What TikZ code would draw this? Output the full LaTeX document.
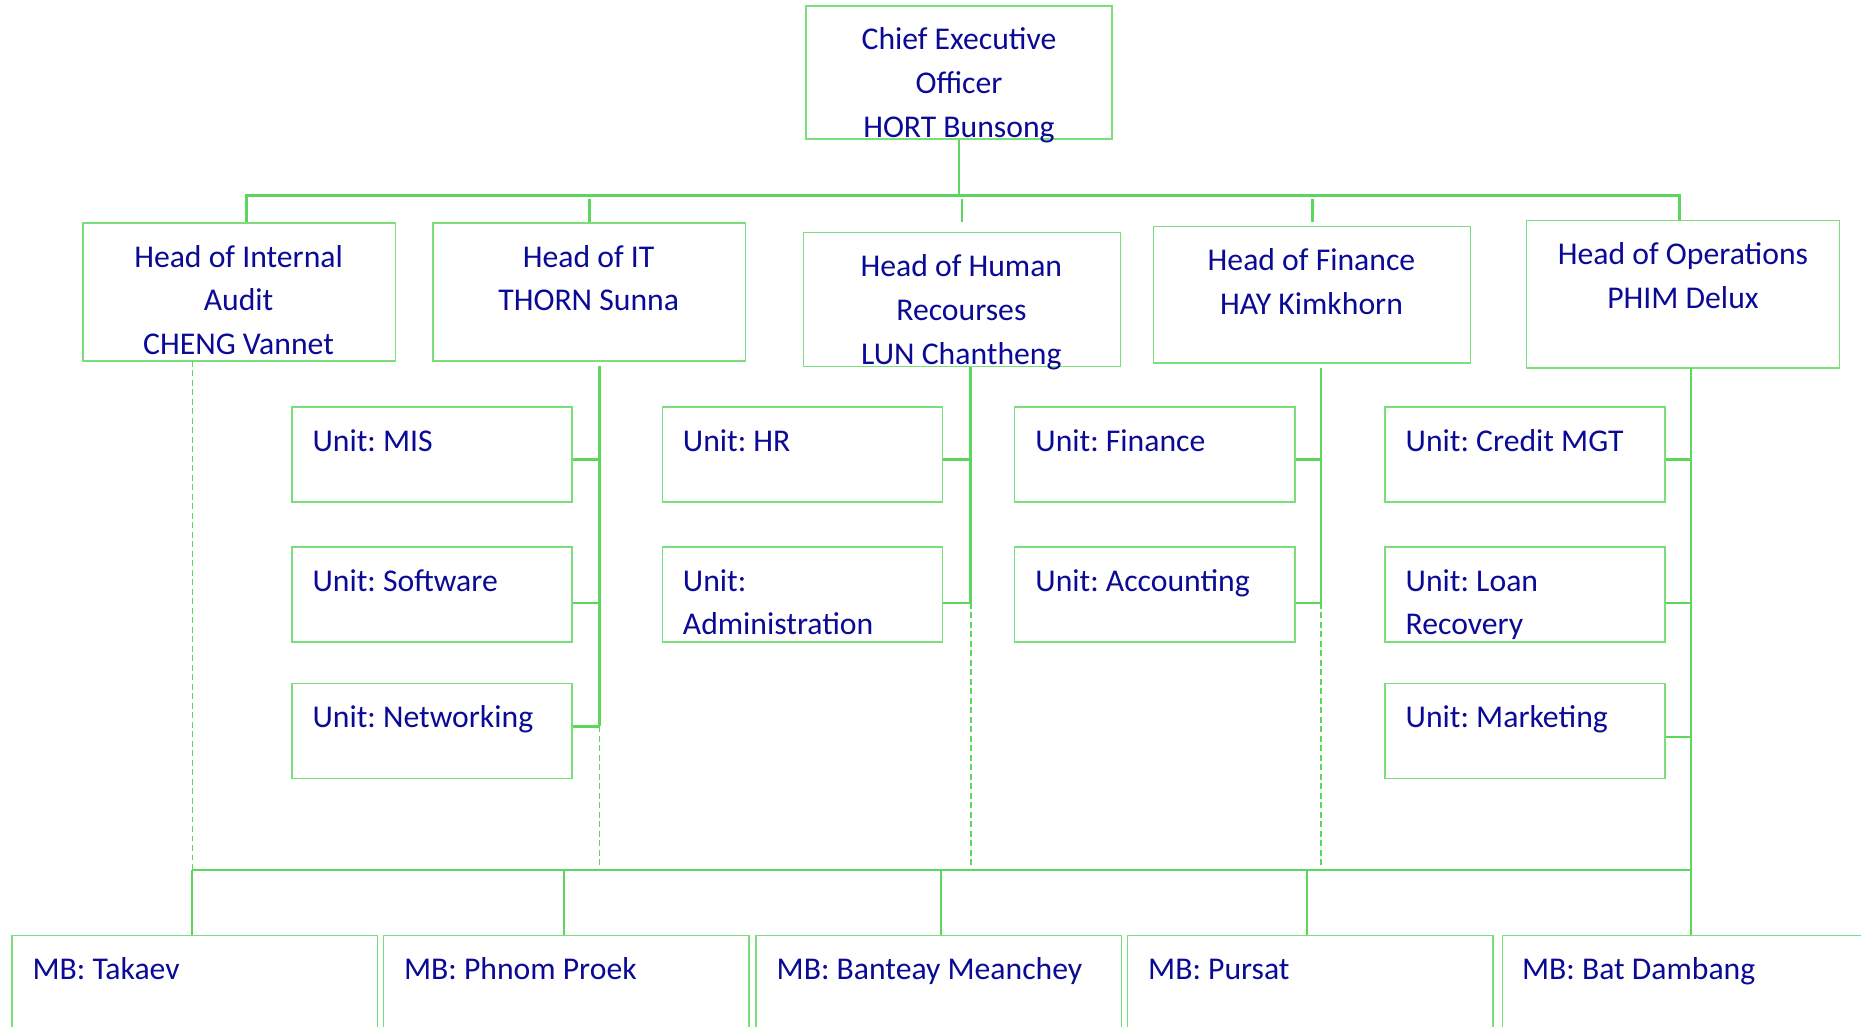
\documentclass[tikz,border=0pt]{standalone}
\usepackage{fontspec}
\setmainfont{Carlito}
\frenchspacing
\usetikzlibrary{fit}
\definecolor{boxgreen}{HTML}{7ADF7A}
\definecolor{linegreen}{HTML}{5CD65C}
\definecolor{txtblue}{HTML}{0A0A96}
\tikzset{
  box/.style={draw=boxgreen, line width=0.6pt, inner sep=0pt},
  ctext/.style={text=txtblue, font=\fontsize{13.35}{18.5}\selectfont, align=center, inner sep=0pt, anchor=base},
  ltext/.style={text=txtblue, font=\fontsize{13.35}{18.5}\selectfont, align=left, inner sep=0pt, anchor=base west},
  link/.style={draw=linegreen, line width=1.2pt},
  tlink/.style={draw=linegreen, line width=0.8pt},
  dlink/.style={draw=linegreen, line width=0.55pt, dash pattern=on 2.5pt off 1.5pt},
}
\newcommand{\orgbox}[5]{\path (#2,#3) coordinate (#1-a) (#4,#5) coordinate (#1-b); \node[box, fit=(#1-a)(#1-b)] (#1) {};}
\begin{document}
\begin{tikzpicture}[x=0.5pt,y=-0.5pt]
\useasboundingbox (0,0) rectangle (1568,865);
\clip (0,0) rectangle (1568,865);
% top
\orgbox{ceo}{679}{5}{937}{117}
\node[ctext] (ceo-t) at (808,116) {Chief Executive\\Officer\\HORT Bunsong};
% heads
\orgbox{audit}{70}{188}{333}{304}
\node[ctext] (audit-t) at (201,299) {Head of Internal\\Audit\\CHENG Vannet};
\orgbox{it}{365}{188}{628}{304}
\node[ctext] (it-t) at (496,262) {Head of IT\\THORN Sunna};
\orgbox{hr}{677}{196}{944}{309}
\node[ctext] (hr-t) at (810,307) {Head of Human\\Recourses\\LUN Chantheng};
\orgbox{fin}{972}{191}{1239}{306}
\node[ctext] (fin-t) at (1105,265) {Head of Finance\\HAY Kimkhorn};
\orgbox{ops}{1286}{186}{1550}{310}
\node[ctext] (ops-t) at (1418,260) {Head of Operations\\PHIM Delux};
% units IT
\orgbox{mis}{246}{343}{482}{423}
\node[ltext] (mis-t) at (263,380) {Unit: MIS};
\orgbox{soft}{246}{461}{482}{541}
\node[ltext] (soft-t) at (263,498) {Unit: Software};
\orgbox{net}{246}{576}{482}{656}
\node[ltext] (net-t) at (263,613) {Unit: Networking};
% units HR
\orgbox{uhr}{558}{343}{794}{423}
\node[ltext] (uhr-t) at (575,380) {Unit: HR};
\orgbox{adm}{558}{461}{794}{541}
\node[ltext] (adm-t) at (575,535) {Unit:\\Administration};
% units Finance
\orgbox{ufin}{855}{343}{1091}{423}
\node[ltext] (ufin-t) at (872,380) {Unit: Finance};
\orgbox{acc}{855}{461}{1091}{541}
\node[ltext] (acc-t) at (872,498) {Unit: Accounting};
% units Ops
\orgbox{cred}{1167}{343}{1403}{423}
\node[ltext] (cred-t) at (1184,380) {Unit: Credit MGT};
\orgbox{loan}{1167}{461}{1403}{541}
\node[ltext] (loan-t) at (1184,535) {Unit: Loan\\Recovery};
\orgbox{mkt}{1167}{576}{1403}{656}
\node[ltext] (mkt-t) at (1184,613) {Unit: Marketing};
% branches
\orgbox{tak}{10}{788}{318}{920}
\node[ltext] (tak-t) at (27,825) {MB: Takaev};
\orgbox{phn}{323}{788}{631}{920}
\node[ltext] (phn-t) at (340,825) {MB: Phnom Proek};
\orgbox{ban}{637}{788}{945}{920}
\node[ltext] (ban-t) at (654,825) {MB: Banteay Meanchey};
\orgbox{pur}{950}{788}{1258}{920}
\node[ltext] (pur-t) at (967,825) {MB: Pursat};
\orgbox{bat}{1266}{788}{1580}{920}
\node[ltext] (bat-t) at (1282,825) {MB: Bat Dambang};
% top bus
\coordinate (busL) at (208,165);
\coordinate (busR) at (1415,165);
\draw[link] (ceo.south) -- (ceo.south |- busL);
\draw[link] (audit.north -| busL) -- (busL) -- (busR) -- (busR |- ops.north);
\draw[link] (it.north) -- ++(0,-20);
\draw[link] (hr.north) ++(0,-8) -- ++(0,-20);
\draw[link] (fin.north) ++(0,-3) -- ++(0,-20);
% trunks
\coordinate (itv) at (505,308);
\coordinate (hrv) at (818,309);
\coordinate (finv) at (1113,310);
\coordinate (opsv) at (1425,310);
\coordinate (audv) at (162,304);
\coordinate (botL) at (162,733);
\coordinate (botR) at (1425,733);
\draw[link] (itv) -- (itv |- 0,612);
\draw[link] (hrv) -- (hrv |- 0,508);
\draw[link] (finv) -- (finv |- 0,508);
\draw[tlink] (opsv) -- (opsv |- bat.north);
\draw[dlink] (audv) -- (botL);
\draw[dlink] (itv |- 0,612) -- (itv |- botL);
\draw[dlink] (hrv |- 0,508) -- (hrv |- botL);
\draw[dlink] (finv |- 0,508) -- (finv |- botL);
% unit connectors
\draw[link] ([yshift=-2pt]mis.east) -- ([yshift=-2pt]mis.east -| itv);
\draw[link] ([yshift=-3.5pt]soft.east) -- ([yshift=-3.5pt]soft.east -| itv);
\draw[link] ([yshift=2pt]net.east) -- ([yshift=2pt]net.east -| itv);
\draw[link] ([yshift=-2pt]uhr.east) -- ([yshift=-2pt]uhr.east -| hrv);
\draw[link] ([yshift=-3.5pt]adm.east) -- ([yshift=-3.5pt]adm.east -| hrv);
\draw[link] ([yshift=-2pt]ufin.east) -- ([yshift=-2pt]ufin.east -| finv);
\draw[link] ([yshift=-3.5pt]acc.east) -- ([yshift=-3.5pt]acc.east -| finv);
\draw[link] ([yshift=-2pt]cred.east) -- ([yshift=-2pt]cred.east -| opsv);
\draw[link] ([yshift=-3.5pt]loan.east) -- ([yshift=-3.5pt]loan.east -| opsv);
\draw[link] ([yshift=-2.5pt]mkt.east) -- ([yshift=-2.5pt]mkt.east -| opsv);
% bottom bus
\draw[tlink] (botL) -- (botR);
\draw[tlink] (botL) -- (botL |- tak.north);
\draw[tlink] (475,733) -- (475,733 |- phn.north);
\draw[tlink] (793,733) -- (793,733 |- ban.north);
\draw[tlink] (1101,733) -- (1101,733 |- pur.north);
\end{tikzpicture}
\end{document}
